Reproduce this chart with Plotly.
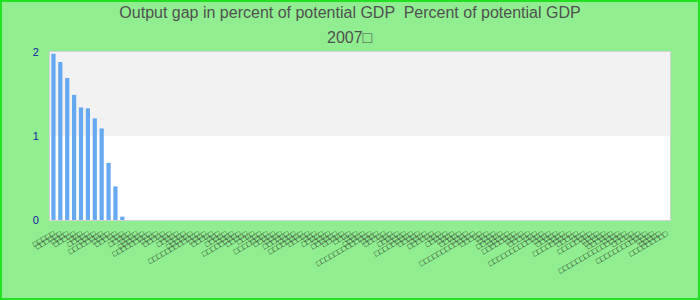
import plotly.graph_objects as go

title_line1 = "Output gap in percent of potential GDP  Percent of potential GDP"
title_line2 = "2007□"

categories = [
    "□□□□□", "□□□□□□", "□□□□", "□□□□□", "□□□", "□□□□□", "□□□□", "□□□□□□□□", "□□□□", "□□□□□",
    "□□□", "□□□□□", "□□□□", "□□□□□□", "□□□□□□□□□", "□□□□", "□□□□□", "□□□", "□□□□□", "□□□□",
    "□□□□□□", "□□□□□□□□□□□□", "□□□□", "□□□□□", "□□□", "□□□□□", "□□□□", "□□□□□□□□□", "□□□□□", "□□□□",
    "□□□", "□□□□□□□□", "□□□□□", "□□□□", "□□□□□□", "□□□□", "□□□□□□□□", "□□□□□", "□□□", "□□□□□",
    "□□□□", "□□□□□□", "□□□□□", "□□□□", "□□□", "□□□□□", "□□□□□□□□□□□□□", "□□□□", "□□□□□", "□□□",
    "□□□□□", "□□□□", "□□□□□□□□□", "□□□□□", "□□□□", "□□□□□□", "□□□", "□□□□□", "□□□□", "□□□□□",
    "□□□□", "□□□□□□□□□□□□□", "□□□□□", "□□□", "□□□□", "□□□□□□", "□□□□□", "□□□□□□□□", "□□□□", "□□□□□",
    "□□□", "□□□□□□□□□□□□□", "□□□□", "□□□□□", "□□□□", "□□□□□□□□□", "□□□□□", "□□□", "□□□□□□□□", "□□□□",
    "□□□□□", "□□□□□□", "□□□□", "□□□□□□□□□□□□□□□□", "□□□□□", "□□□", "□□□□□□□□□□□□", "□□□□", "□□□□□", "□□□□□□□□□",
]

values = [
    1.98, 1.88, 1.69, 1.49, 1.34, 1.33, 1.21, 1.09, 0.68, 0.40,
    0.04, 0, 0, 0, 0, 0, 0, 0, 0, 0,
    0, 0, 0, 0, 0, 0, 0, 0, 0, 0,
    0, 0, 0, 0, 0, 0, 0, 0, 0, 0,
    0, 0, 0, 0, 0, 0, 0, 0, 0, 0,
    0, 0, 0, 0, 0, 0, 0, 0, 0, 0,
    0, 0, 0, 0, 0, 0, 0, 0, 0, 0,
    0, 0, 0, 0, 0, 0, 0, 0, 0, 0,
    0, 0, 0, 0, 0, 0, 0, 0, 0, 0,
]

y_ticks = [0, 1, 2]

positions = list(range(len(categories)))

W, H = 700, 300
ML, MR, MT, MB = 50, 30, 52, 80
PW, PH = W - ML - MR, H - MT - MB

fig = go.Figure(go.Bar(
    x=positions, y=values,
    marker=dict(color="#65a9f2", line=dict(width=0)),
    hoverinfo="skip",
))

fig.update_layout(
    width=W, height=H,
    margin=dict(l=ML, r=MR, t=MT, b=MB, pad=0),
    paper_bgcolor="#90ee90",
    plot_bgcolor="#ffffff",
    bargap=0.39,
    showlegend=False,
    font=dict(family="Liberation Sans, Arial, sans-serif"),
    title=dict(
        text=title_line1,
        x=0.5, xref="container", xanchor="center",
        y=1 - 12 / H, yref="container", yanchor="middle",
        font=dict(size=16, color="#505050", family="Liberation Sans, Arial, sans-serif"),
    ),
    annotations=[dict(
        text=title_line2, showarrow=False,
        xref="paper", yref="paper",
        x=(350 - ML) / PW, y=1 + (MT - 37) / PH,
        xanchor="center", yanchor="middle",
        font=dict(size=16, color="#505050", family="Liberation Sans, Arial, sans-serif"),
    )],
    shapes=[
        dict(type="rect", xref="paper", yref="y", x0=0, x1=1, y0=1, y1=2,
             fillcolor="#f2f2f2", line=dict(width=0), layer="below"),
        dict(type="rect", xref="paper", yref="paper",
             x0=(1 - ML) / PW, x1=(W - 1 - ML) / PW,
             y0=(MT + PH - (H - 1)) / PH, y1=(MT + PH - 1) / PH,
             line=dict(color="#22e022", width=2), fillcolor="rgba(0,0,0,0)"),
    ],
)

fig.update_xaxes(
    range=[-0.5, len(categories) - 0.5],
    tickmode="array", tickvals=positions, ticktext=categories,
    tickangle=-30, tickfont=dict(size=8, color="#222222"),
    showgrid=False, zeroline=False,
    showline=True, mirror=True, linecolor="#d3d3d3", linewidth=1,
    ticks="", ticklabelstandoff=5,
)
fig.update_yaxes(
    range=[0, 2], tickmode="array", tickvals=y_ticks,
    tickfont=dict(size=11, color="#1a1aa0"),
    showgrid=False, zeroline=False,
    showline=True, mirror=True, linecolor="#d3d3d3", linewidth=1,
    ticks="", ticklabelstandoff=8,
)

fig.write_html("out.html")
